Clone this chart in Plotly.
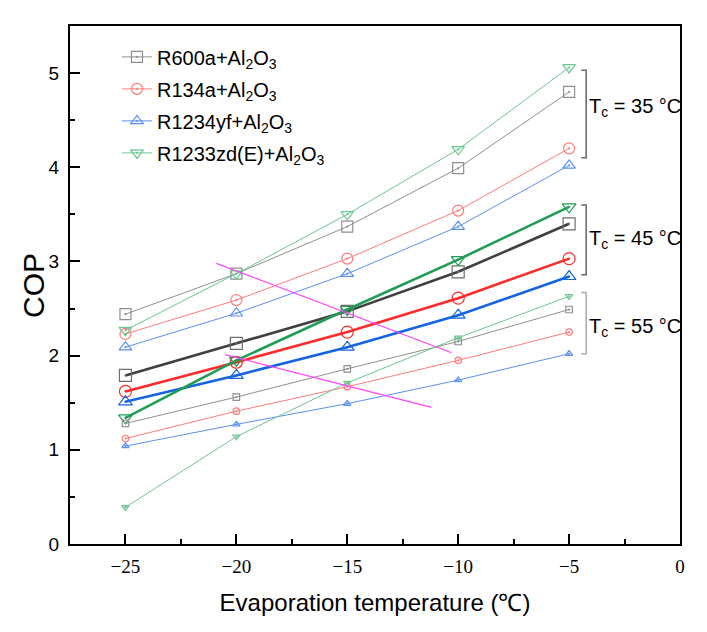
import plotly.graph_objects as go

# evaporation temperatures (x) and COP values
t_evap = [-25, -20, -15, -10, -5]

# Tc = 35 C
cop35_r600a = [2.44, 2.87, 3.37, 3.99, 4.80]
cop35_r134a = [2.23, 2.59, 3.03, 3.54, 4.20]
cop35_r1234yf = [2.09, 2.45, 2.87, 3.37, 4.02]
cop35_r1233zd = [2.27, 2.87, 3.50, 4.19, 5.06]

# Tc = 45 C
cop45_r600a = [1.79, 2.13, 2.47, 2.89, 3.40]
cop45_r134a = [1.62, 1.93, 2.25, 2.61, 3.03]
cop45_r1234yf = [1.51, 1.79, 2.09, 2.43, 2.84]
cop45_r1233zd = [1.34, 1.95, 2.49, 3.02, 3.58]

# Tc = 55 C
cop55_r600a = [1.28, 1.56, 1.86, 2.15, 2.49]
cop55_r134a = [1.12, 1.41, 1.67, 1.95, 2.25]
cop55_r1234yf = [1.04, 1.27, 1.49, 1.74, 2.02]
cop55_r1233zd = [0.39, 1.14, 1.71, 2.19, 2.63]

# magenta guide lines
guide1_x = [-20.9, -10.3]
guide1_y = [2.98, 2.03]
guide2_x = [-20.5, -11.2]
guide2_y = [2.01, 1.45]

# brackets on the right: (bottom, top) and labels
bracket_lo = [4.10, 2.86, 2.02]
bracket_hi = [5.03, 3.60, 2.67]
bracket_lab = ["T<sub>c</sub> = 35 °C", "T<sub>c</sub> = 45 °C", "T<sub>c</sub> = 55 °C"]
bracket_laby = [4.63, 3.23, 2.30]

x_tickvals = [-25, -20, -15, -10, -5, 0]
x_ticktext = ["\u221225", "\u221220", "\u221215", "\u221210", "\u22125", "0"]

names = ["R600a+Al<sub>2</sub>O<sub>3</sub>", "R134a+Al<sub>2</sub>O<sub>3</sub>",
         "R1234yf+Al<sub>2</sub>O<sub>3</sub>", "R1233zd(E)+Al<sub>2</sub>O<sub>3</sub>"]
symbols = ["square-open-dot", "circle-open-dot", "triangle-up-open-dot", "triangle-down-open-dot"]
light = ["#8f8f8f", "#ff7b7b", "#5b8ff0", "#6cc690"]
dark = ["#404040", "#ff2a2a", "#1565e0", "#1f9d55"]
mk45 = ["#6e6e6e", "#ff2a2a", "#1565e0", "#1f9d55"]

fig = go.Figure()

groups = [
    ([cop35_r600a, cop35_r134a, cop35_r1234yf, cop35_r1233zd], light, light, 1, 11, True),
    ([cop45_r600a, cop45_r134a, cop45_r1234yf, cop45_r1233zd], dark, mk45, 2.6, 12, False),
    ([cop55_r600a, cop55_r134a, cop55_r1234yf, cop55_r1233zd], light, light, 1, 6.5, False),
]
for series, lc, mc, lw, ms, leg in groups:
    for i, y in enumerate(series):
        fig.add_trace(go.Scatter(
            x=t_evap, y=y, mode="lines+markers", name=names[i],
            legendgroup="g%d" % i, showlegend=leg,
            line=dict(color=lc[i], width=lw),
            marker=dict(symbol=symbols[i], size=ms, color=mc[i], line=dict(width=1.2, color=mc[i])),
        ))

for gx, gy in [(guide1_x, guide1_y), (guide2_x, guide2_y)]:
    fig.add_trace(go.Scatter(x=gx, y=gy, mode="lines", showlegend=False,
                             line=dict(color="#ff44ff", width=1.2)))

bcol = ["#666666", "#666666", "#aaaaaa"]
for lo, hi, lab, ly, c in zip(bracket_lo, bracket_hi, bracket_lab, bracket_laby, bcol):
    fig.add_shape(type="path", xref="x", yref="y",
                  path="M -4.45 %s L -4.23 %s L -4.23 %s L -4.45 %s" % (hi, hi, lo, lo),
                  line=dict(color=c, width=1.5))
    fig.add_annotation(x=-4.2, y=ly, text=lab, xref="x", yref="y", showarrow=False,
                       xanchor="left", yanchor="middle",
                       font=dict(family="Liberation Sans, Arial", size=20, color="black"))

# y axis title as an annotation so it can sit where the original has it
fig.add_annotation(x=-0.0607, y=0.5, xref="paper", yref="paper", text="COP", textangle=-90,
                   showarrow=False, xanchor="center", yanchor="middle",
                   font=dict(family="Liberation Sans, Arial", size=30, color="black"))

# page body has an 8px margin, so the figure is 8px smaller and shifted
fig.update_layout(
    width=699, height=624,
    margin=dict(l=62, r=27, t=18, b=88),
    paper_bgcolor="white", plot_bgcolor="white",
    font=dict(family="Liberation Sans, Arial", color="black"),
    showlegend=True,
    legend=dict(x=0.077, y=0.978, xanchor="left", yanchor="top",
                bgcolor="rgba(0,0,0,0)", font=dict(size=20), tracegroupgap=3),
)
fig.update_xaxes(
    range=[-27.5, 0], tickvals=x_tickvals, ticktext=x_ticktext,
    ticks="inside", ticklen=10, tickwidth=2, tickcolor="black",
    minor=dict(dtick=2.5, tick0=0, ticks="inside", ticklen=5, tickwidth=1.5, tickcolor="black"),
    showline=True, linecolor="black", linewidth=2, mirror=True, showgrid=False, zeroline=False,
    tickfont=dict(family="Liberation Serif", size=19), ticklabelstandoff=4,
    title=dict(text="Evaporation temperature (℃)", font=dict(size=24), standoff=18),
)
fig.update_yaxes(
    range=[0, 5.5], dtick=1, tick0=0,
    ticks="inside", ticklen=10, tickwidth=2, tickcolor="black",
    minor=dict(dtick=0.5, ticks="inside", ticklen=5, tickwidth=1.5, tickcolor="black"),
    showline=True, linecolor="black", linewidth=2, mirror=True, showgrid=False, zeroline=False,
    tickfont=dict(size=19), ticklabelstandoff=5,
)

fig.write_html("out.html")
